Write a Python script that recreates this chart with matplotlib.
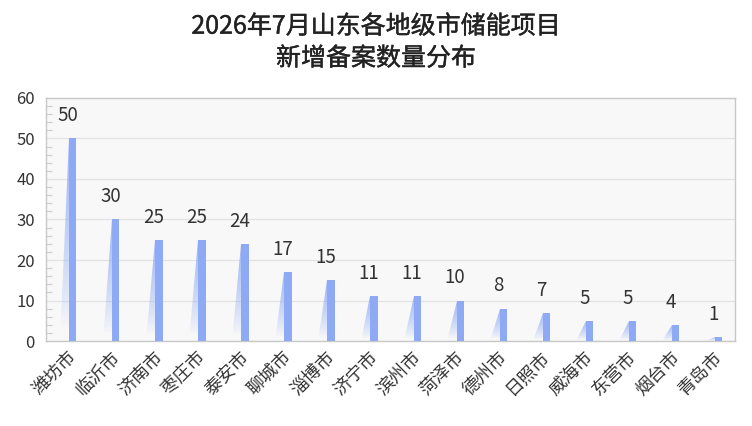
import matplotlib.pyplot as plt
import matplotlib.patheffects as pe
import numpy as np
from matplotlib.patches import Polygon
from matplotlib.ticker import MultipleLocator

plt.rcParams["font.family"] = ["Noto Sans CJK SC", "DejaVu Sans"]

cities = ["潍坊市", "临沂市", "济南市", "枣庄市", "泰安市", "聊城市", "淄博市", "济宁市",
          "滨州市", "菏泽市", "德州市", "日照市", "威海市", "东营市", "烟台市", "青岛市"]
counts = [50, 30, 25, 25, 24, 17, 15, 11, 11, 10, 8, 7, 5, 5, 4, 1]

title = "2026年7月山东各地级市储能项目\n新增备案数量分布"

BAR_COLOR = "#8eaaf5"
TEXT_COLOR = "#333333"


def main() -> None:
    fig = plt.figure(figsize=(7.52, 4.26), dpi=100)
    ax = fig.add_axes([0.0612, 0.1995, 0.9162, 0.5705])
    ax.set_facecolor("#f8f8f8")

    x = np.arange(len(cities))
    offset = 0.12
    width = 0.17
    shadow_w = 0.22

    ax.bar(x + offset, counts, width=width, color=BAR_COLOR, zorder=3)

    # fading triangular shadow left of each bar
    grad = np.zeros((100, 2, 4))
    grad[..., 0] = 0x8e / 255
    grad[..., 1] = 0xaa / 255
    grad[..., 2] = 0xf5 / 255
    frac = np.linspace(1, 0, 100)[:, None]
    grad[..., 3] = np.clip((frac - 0.06) / 0.94, 0, 1) ** 0.8 * 0.85
    for xi, v in zip(x, counts):
        left = xi + offset - width / 2
        im = ax.imshow(grad, extent=[left - shadow_w, left, 0, v],
                       aspect="auto", zorder=2, interpolation="bilinear")
        tri = Polygon([(left, v), (left, 0), (left - shadow_w, 0)],
                      closed=True, transform=ax.transData)
        im.set_clip_path(tri)
        ax.text(xi, v + 3.0, str(v), ha="center", va="bottom",
                fontsize=13.5, color=TEXT_COLOR, zorder=4)

    ax.set_xlim(-0.5, len(cities) - 0.5)
    ax.set_ylim(0, 60)
    ax.yaxis.set_major_locator(MultipleLocator(10))
    ax.yaxis.set_minor_locator(MultipleLocator(2))
    ax.grid(axis="y", which="major", color="#e2e2e2", linewidth=0.9, zorder=0)
    ax.set_axisbelow(True)

    ax.set_xticks(x)
    ax.set_xticklabels(cities, rotation=45, ha="right", va="top",
                       rotation_mode="anchor", fontsize=13, color=TEXT_COLOR)
    ax.tick_params(axis="x", length=0, pad=5)
    ax.tick_params(axis="y", which="major", length=0, pad=8,
                   labelsize=12, labelcolor=TEXT_COLOR)
    ax.tick_params(axis="y", which="minor", direction="in", length=4,
                   color="#cccccc", width=0.8)

    for side in ["left", "right", "top", "bottom"]:
        ax.spines[side].set_color("#c8c8c8")
        ax.spines[side].set_linewidth(1.0)

    fig.text(0.5, 0.968, title, ha="center", va="top", fontsize=18,
             color="#222222", linespacing=1.3,
             path_effects=[pe.withStroke(linewidth=0.3, foreground="#222222")])

    fig.savefig("out.png", dpi=100)
    plt.close(fig)


if __name__ == "__main__":
    main()
